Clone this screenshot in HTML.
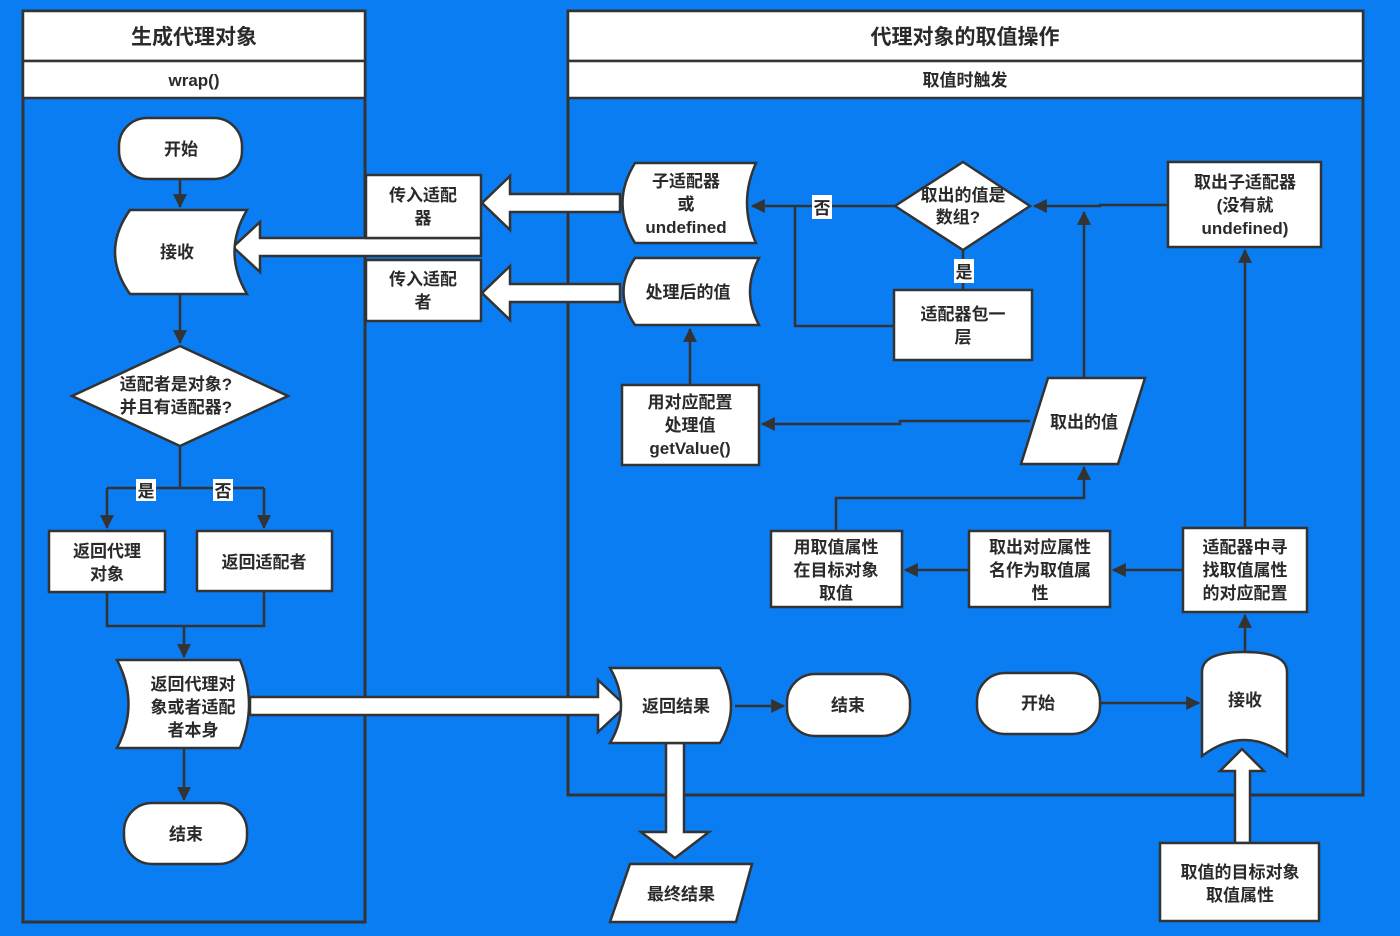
<!DOCTYPE html>
<html><head><meta charset="utf-8"><style>
html,body{margin:0;padding:0;background:#0b7df3;}
svg{display:block}
text{font-family:"Liberation Sans","Noto Sans CJK SC",sans-serif;font-weight:bold;fill:#2a2a2a;font-size:17px;text-anchor:middle}
</style></head><body>
<svg width="1400" height="936" viewBox="0 0 1400 936" xmlns="http://www.w3.org/2000/svg">
<defs>
<marker id="a" viewBox="0 0 10 10" refX="9" refY="5" markerWidth="8" markerHeight="8" orient="auto" markerUnits="userSpaceOnUse"><path d="M0,0 L10,5 L0,10 z" fill="#333"/></marker>
<marker id="b" viewBox="0 0 12 12" refX="11" refY="6" markerWidth="14" markerHeight="14" orient="auto" markerUnits="userSpaceOnUse"><path d="M0,0 L12,6 L0,12 z" fill="#333"/></marker>
</defs>
<rect width="1400" height="936" fill="#0b7df3"/>
<g stroke="#333" stroke-width="3" fill="none">
<!-- pools -->
<rect x="23" y="11" width="342" height="911"/>
<rect x="568" y="11" width="795" height="784"/>
</g>
<g stroke="#333" stroke-width="2.5" fill="#fff">
<rect x="23" y="11" width="342" height="50"/>
<rect x="23" y="61" width="342" height="37"/>
<rect x="568" y="11" width="795" height="50"/>
<rect x="568" y="61" width="795" height="37"/>
</g>
<text x="194" y="44" style="font-size:21px">生成代理对象</text>
<text x="194" y="86">wrap()</text>
<text x="965" y="44" style="font-size:21px">代理对象的取值操作</text>
<text x="965" y="86">取值时触发</text>

<!-- connectors -->
<g stroke="#333" stroke-width="2.5" fill="none">
<path d="M180,179 V207" marker-end="url(#b)"/>
<path d="M180,294 V343" marker-end="url(#b)"/>
<path d="M180,446 V488 M107,488 H264"/>
<path d="M107,488 V528" marker-end="url(#b)"/>
<path d="M264,488 V528" marker-end="url(#b)"/>
<path d="M107,592 V626 H264 V591 M184,626 V657" marker-end="url(#b)"/>
<path d="M184,748 V800" marker-end="url(#b)"/>
<path d="M735,706 H784" marker-end="url(#b)"/>
<path d="M1100,703 H1199" marker-end="url(#b)"/>
<path d="M1245,652 V615" marker-end="url(#b)"/>
<path d="M1183,570 H1113" marker-end="url(#b)"/>
<path d="M969,570 H905" marker-end="url(#b)"/>
<path d="M836,531 V498 H1084 V467" marker-end="url(#b)"/>
<path d="M1084,378 V212" marker-end="url(#b)"/>
<path d="M1030,421 H900 V424 H762" marker-end="url(#b)"/>
<path d="M690,385 V329" marker-end="url(#b)"/>
<path d="M1245,528 V250" marker-end="url(#b)"/>
<path d="M1168,205 H1100 V206 H1034" marker-end="url(#b)"/>
<path d="M895,206 H752" marker-end="url(#b)"/>
<path d="M963,250 V290"/>
<path d="M894,326 H795 V206"/>
</g>

<!-- hollow big arrows -->
<g stroke="#333" stroke-width="2.5" fill="#fff">
<path d="M250,697 H598 V680 L626,706 L598,732 V715 H250 Z"/>
<path d="M666,743 V832 H641 L675,858 L709,832 H684 V743 Z"/>
<path d="M1235,843 V771 H1220 L1242,749 L1264,771 H1250 V843 Z"/>
<path d="M620,194 H510 V176 L482,203 L510,230 V212 H620 Z"/>
<path d="M620,284 H510 V266 L482,293 L510,320 V302 H620 Z"/>
<path d="M481,238 H260 V222 L233,247 L260,272 V256 H481 Z"/>
</g>

<!-- shapes -->
<g stroke="#333" stroke-width="2.5" fill="#fff">
<rect x="119" y="118" width="123" height="61" rx="28"/>
<path d="M130,210 H247 Q222,252 247,294 H130 Q100,252 130,210 Z"/>
<path d="M180,346 L288,396 L180,446 L72,396 Z"/>
<rect x="49" y="531" width="116" height="61"/>
<rect x="197" y="531" width="135" height="60"/>
<path d="M134,660 H240 Q258,704 240,748 H117 Q140,704 117,660 Z"/>
<rect x="124" y="803" width="123" height="61" rx="28"/>
<rect x="366" y="175" width="115" height="63"/>
<rect x="366" y="260" width="115" height="61"/>
<path d="M635,163 H756 Q738,203 756,243 H635 Q610,203 635,163 Z"/>
<path d="M635,258 H759 Q741,292 759,325 H635 Q612,292 635,258 Z"/>
<rect x="622" y="385" width="137" height="80"/>
<path d="M963,162 L1030,206 L963,250 L895,206 Z"/>
<rect x="894" y="290" width="138" height="70"/>
<rect x="1168" y="162" width="153" height="85"/>
<path d="M1048,378 H1145 L1118,464 H1021 Z"/>
<rect x="771" y="531" width="131" height="76"/>
<rect x="969" y="531" width="141" height="76"/>
<rect x="1183" y="528" width="124" height="84"/>
<path d="M610,668 H720 Q742,706 720,743 H610 Q632,706 610,668 Z"/>
<rect x="787" y="674" width="123" height="62" rx="28"/>
<rect x="977" y="673" width="123" height="61" rx="28"/>
<path d="M1202,672 Q1202,652 1244,652 Q1287,652 1287,672 V756 Q1244,724 1202,756 Z"/>
<path d="M630,864 H752 L736,922 H610 Z"/>
<rect x="1160" y="843" width="159" height="78"/>
</g>

<!-- label backgrounds -->
<g fill="#fff">
<rect x="136" y="479" width="20" height="22"/>
<rect x="213" y="479" width="20" height="22"/>
<rect x="812" y="195" width="20" height="24"/>
<rect x="954" y="259" width="20" height="24"/>
</g>
<text x="146" y="497">是</text>
<text x="223" y="497">否</text>
<text x="822" y="214">否</text>
<text x="964" y="278">是</text>

<!-- node texts -->
<text x="181" y="155">开始</text>
<text x="177" y="258">接收</text>
<text x="176" y="390">适配者是对象?</text>
<text x="176" y="413">并且有适配器?</text>
<text x="107" y="557">返回代理</text>
<text x="107" y="580">对象</text>
<text x="264" y="568">返回适配者</text>
<text x="193" y="690">返回代理对</text>
<text x="193" y="713">象或者适配</text>
<text x="193" y="736">者本身</text>
<text x="186" y="840">结束</text>
<text x="423" y="201">传入适配</text>
<text x="423" y="224">器</text>
<text x="423" y="285">传入适配</text>
<text x="423" y="308">者</text>
<text x="686" y="187">子适配器</text>
<text x="686" y="210">或</text>
<text x="686" y="233">undefined</text>
<text x="688" y="298">处理后的值</text>
<text x="690" y="408">用对应配置</text>
<text x="690" y="431">处理值</text>
<text x="690" y="454">getValue()</text>
<text x="963" y="201">取出的值是</text>
<text x="958" y="223">数组?</text>
<text x="963" y="320">适配器包一</text>
<text x="963" y="343">层</text>
<text x="1245" y="188">取出子适配器</text>
<text x="1245" y="211">(没有就</text>
<text x="1245" y="234">undefined)</text>
<text x="1084" y="428">取出的值</text>
<text x="836" y="553">用取值属性</text>
<text x="836" y="576">在目标对象</text>
<text x="836" y="599">取值</text>
<text x="1040" y="553">取出对应属性</text>
<text x="1040" y="576">名作为取值属</text>
<text x="1040" y="599">性</text>
<text x="1245" y="553">适配器中寻</text>
<text x="1245" y="576">找取值属性</text>
<text x="1245" y="599">的对应配置</text>
<text x="676" y="712">返回结果</text>
<text x="848" y="711">结束</text>
<text x="1038" y="709">开始</text>
<text x="1245" y="706">接收</text>
<text x="681" y="900">最终结果</text>
<text x="1240" y="878">取值的目标对象</text>
<text x="1240" y="901">取值属性</text>
</svg>
</body></html>
